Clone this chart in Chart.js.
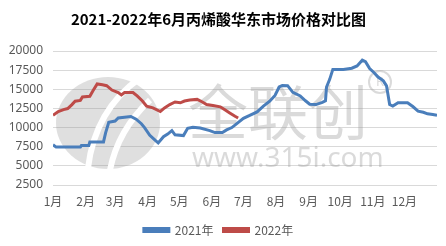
<!DOCTYPE html>
<html>
<head>
  <meta charset="utf-8">
  <title>丙烯酸华东市场价格对比</title>
  <script src="https://cdn.jsdelivr.net/npm/chart.js"></script>
  <style>
    body {
      margin: 0;
      background: #fff;
    }
    #priceChart {
      display: block;
    }
  </style>
</head>
<body>
  <canvas id="priceChart" width="446" height="246"></canvas>

  <script>
    // month labels and the day of year each month starts on
    const months = ['1月', '2月', '3月', '4月', '5月', '6月', '7月', '8月', '9月', '10月', '11月', '12月'];
    const monthStart = [0, 31, 59, 90, 120, 151, 181, 212, 243, 273, 304, 334];

    // 2021 prices (day of year, yuan/t)
    const days2021 = [0, 3, 26, 27, 34, 35, 48, 50, 53, 59, 62, 68, 74, 79, 84, 87, 92, 97, 100, 105, 109, 113, 116, 124, 128, 133, 140, 149, 154, 161, 165, 170, 175, 181, 187, 194, 200, 206, 211, 215, 218, 223, 228, 235, 240, 244, 250, 256, 259, 260, 263, 266, 276, 284, 289, 294, 297, 301, 305, 309, 314, 317, 320, 323, 328, 337, 342, 347, 352, 356, 361, 365];
    const price2021 = [7750, 7450, 7450, 7650, 7650, 8120, 8130, 9300, 10700, 10850, 11250, 11350, 11450, 11100, 10500, 10000, 9000, 8350, 8000, 8800, 9150, 9600, 9050, 8950, 9900, 10050, 9950, 9600, 9350, 9350, 9700, 10000, 10550, 11200, 11600, 12050, 12800, 13450, 14200, 15300, 15500, 15470, 14600, 14130, 13500, 13050, 13000, 13300, 13500, 15300, 16300, 17600, 17600, 17750, 18050, 18800, 18600, 17700, 17200, 16600, 16100, 15450, 13000, 12800, 13240, 13240, 12750, 12150, 12000, 11800, 11700, 11600];

    // 2022 prices up to June
    const days2022 = [0, 5, 10, 14, 18, 21, 26, 28, 35, 38, 42, 47, 51, 56, 62, 65, 68, 76, 80, 85, 89, 95, 102, 106, 111, 116, 121, 125, 130, 137, 142, 146, 152, 159, 163, 168, 173, 176];
    const price2022 = [11600, 12100, 12350, 12480, 13000, 13450, 13550, 14000, 14080, 14800, 15700, 15600, 15470, 14900, 14570, 14270, 14570, 14570, 14130, 13470, 12800, 12570, 12100, 12570, 13000, 13340, 13240, 13470, 13600, 13680, 13340, 13020, 12880, 12710, 12350, 11910, 11470, 11250];

    const textFont = '"Noto Sans CJK SC", "Noto Sans", sans-serif';

    function toPoints(days, prices) {
      return days.map((d, i) => ({ x: d, y: prices[i] }));
    }

    // faint company watermark behind the lines
    const watermark = {
      id: 'watermark',
      beforeDatasetsDraw(chart) {
        const ctx = chart.ctx;
        ctx.save();
        ctx.fillStyle = 'rgba(150, 150, 150, 0.3)';
        ctx.beginPath();
        ctx.ellipse(108, 123, 52, 46, 0, 0, Math.PI * 2);
        ctx.fill();
        ctx.strokeStyle = '#fff';
        ctx.lineWidth = 6;
        ctx.beginPath();
        ctx.moveTo(140, 78);
        ctx.quadraticCurveTo(95, 110, 88, 168);
        ctx.stroke();
        ctx.beginPath();
        ctx.moveTo(150, 100);
        ctx.quadraticCurveTo(118, 130, 110, 170);
        ctx.stroke();

        ctx.fillStyle = 'rgba(150, 150, 150, 0.35)';
        ctx.font = '60px ' + textFont;
        ctx.textAlign = 'center';
        ctx.textBaseline = 'middle';
        ctx.fillText('全联创', 278, 112);
        ctx.font = '28px "Noto Sans", sans-serif';
        ctx.textAlign = 'left';
        ctx.textBaseline = 'alphabetic';
        ctx.fillText('www.315i.com', 192, 167);
        ctx.strokeStyle = 'rgba(150, 150, 150, 0.35)';
        ctx.lineWidth = 2;
        ctx.beginPath();
        ctx.arc(380, 82, 11, 0, Math.PI * 2);
        ctx.stroke();
        ctx.font = '13px "Noto Sans", sans-serif';
        ctx.textAlign = 'center';
        ctx.textBaseline = 'middle';
        ctx.fillText('R', 380, 82);
        ctx.restore();
      }
    };

    const ctx = document.getElementById('priceChart').getContext('2d');

    new Chart(ctx, {
      type: 'line',
      data: {
        datasets: [{
          label: '2021年',
          data: toPoints(days2021, price2021),
          borderColor: '#4A7EBB',
          backgroundColor: '#4A7EBB',
          borderWidth: 3,
          pointRadius: 0,
          tension: 0
        }, {
          label: '2022年',
          data: toPoints(days2022, price2022),
          borderColor: '#BE4B48',
          backgroundColor: '#BE4B48',
          borderWidth: 3,
          pointRadius: 0,
          tension: 0
        }]
      },
      options: {
        responsive: false,
        animation: false,
        layout: {
          padding: { left: 0, right: 9, top: 0, bottom: 0 }
        },
        scales: {
          x: {
            type: 'linear',
            min: 0,
            max: 365,
            afterBuildTicks: function(scale) {
              scale.ticks = monthStart.map(v => ({ value: v }));
            },
            afterFit: function(scale) {
              scale.height = 29;
            },
            grid: { display: false, drawTicks: false },
            border: { display: false },
            ticks: {
              autoSkip: false,
              maxRotation: 0,
              padding: 9,
              color: '#595959',
              font: { family: textFont, size: 12 },
              callback: function(value) {
                return months[monthStart.indexOf(value)];
              }
            }
          },
          y: {
            min: 2500,
            max: 20000,
            afterFit: function(scale) {
              scale.width = 53;
            },
            grid: { color: '#d9d9d9', drawTicks: false },
            border: { display: false },
            ticks: {
              stepSize: 2500,
              padding: 10,
              color: '#595959',
              font: { family: '"Noto Sans", sans-serif', size: 12 },
              callback: function(value) {
                return String(value);
              }
            }
          }
        },
        plugins: {
          title: {
            display: true,
            text: '2021-2022年6月丙烯酸华东市场价格对比图',
            color: '#000',
            font: { family: textFont, size: 15, weight: 'bold' },
            padding: { top: 10, bottom: 23 }
          },
          legend: {
            position: 'bottom',
            labels: {
              boxWidth: 25,
              boxHeight: 3,
              padding: 10,
              color: '#595959',
              font: { family: textFont, size: 12 }
            }
          },
          tooltip: { enabled: false }
        }
      },
      plugins: [watermark]
    });
  </script>
</body>
</html>
